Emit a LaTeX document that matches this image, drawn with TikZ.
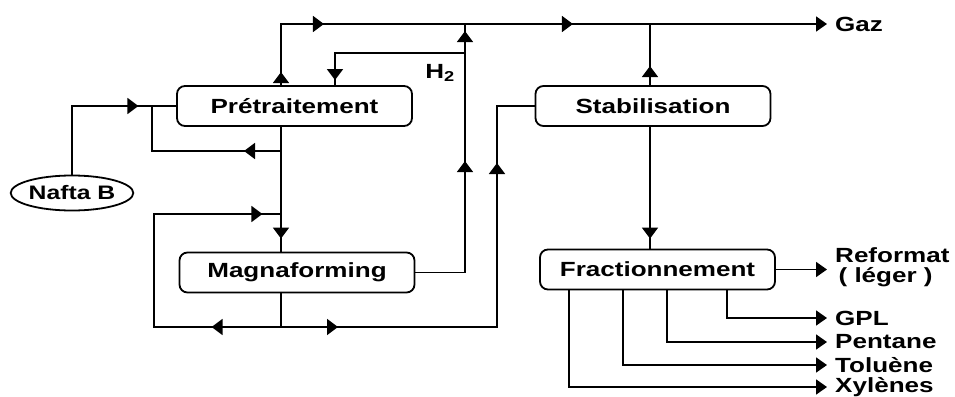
\documentclass[tikz,border=0pt]{standalone}
\usepackage{fontspec}
\setmainfont{Liberation Sans}[FakeStretch=1.27]
\usetikzlibrary{positioning,arrows.meta,shapes.geometric,decorations.markings,calc}
\tikzset{
  txt/.style={font=\bfseries\fontsize{20.5}{22}\selectfont},
  box/.style={draw, txt, line width=1.8pt, rounded corners=8pt, minimum width=235pt,
              minimum height=40pt, inner sep=0pt},
  feed/.style={draw, txt, ellipse, line width=1.8pt, minimum width=121pt,
               minimum height=35pt, inner sep=0pt},
  prod/.style={txt, anchor=west, inner xsep=8pt, inner ysep=0pt, align=left},
  flow/.style={line width=1.8pt, draw=black},
  toend/.style={-{Triangle[length=11pt,width=15pt]}},
  mid/.style={postaction={decorate, decoration={markings,
              mark=at position #1 with {\arrow{Triangle[length=11pt,width=16pt]}}}}},
}
\begin{document}
\begin{tikzpicture}[x=1pt, y=-1pt]
\useasboundingbox (0,0) rectangle (955,396);

% ---- units ----------------------------------------------------------------
\node[box] (pre) at (294.5,106) {Prétraitement};
\node[box] (mag) at (297,272.5) {Magnaforming};
\node[box] (stab) at (653,106) {Stabilisation};
\node[box] (frac) at (657.5,269.5) {Fractionnement};
\node[feed, font=\bfseries\fontsize{19.5}{22}\selectfont] (nafta) at (72,193) {Nafta B};

% ---- products ---------------------------------------------------------------
\node[prod] (gaz) at (827,24) {Gaz};
\node[txt, inner sep=0pt] (h2) at (440,73) {H\textsubscript{2}};
\node[prod] (ref) at (827,267) {Reformat\\[-2pt]\,( léger )};

% ---- columns of the pipes ---------------------------------------------------
\coordinate (xa) at (281,0);
\coordinate (xh) at (335,0);
\coordinate (xc) at (650,0);
\coordinate (xs) at (497,0);
\coordinate (h2top) at (465,24);
\coordinate (h2j) at (465,53);
\coordinate (bpr) at (281,151);
\coordinate (bpl) at (152,151);
\coordinate (bpt) at (152,106);
\coordinate (jb) at (281,327);
\coordinate (lb) at (154,327);
\coordinate (lt) at (154,214);
\coordinate (jt) at (281,214);

% ---- arrows -----------------------------------------------------------------
\draw[flow, toend, mid=13pt, mid=104pt, mid=353pt] (pre.north -| xa) |- (gaz.west);
\draw[flow, mid=161pt, mid=291pt] (mag.east) -| (h2top);
\draw[flow, mid={-5pt}] (h2j) -| (pre.north -| xh);
\draw[flow, mid=135pt] (nafta.north) |- (pre.west);
\draw[flow, mid=37pt] (bpr) -- (bpl) -- (bpt);
\draw[flow, mid={-13pt}] (pre.south -| xa) -- (mag.north -| xa);
% recycle loop round the reactor, and the feed of the stabiliser
\draw[flow, mid=103pt, mid=382pt] (mag.south -| xa) -- (jb) -- (lb) -- (lt) -- (jt);
\draw[flow, mid=57pt, mid=380pt] (jb) -| (stab.west -| xs) -- (stab.west);
\draw[flow, mid=19pt] (stab.north -| xc) -- (xc |- gaz.west);
\draw[flow, mid={-10pt}] (stab.south -| xc) -- (frac.north -| xc);
\draw[flow, toend] (frac.east) -- (ref.west |- frac.east);
% cuts of the fractionation
\foreach \n/\t/\x/\y in {gpl/GPL/727/318, pen/Pentane/667/342,
                          tol/Toluène/623/365, xyl/Xylènes/569/387} {
  \node[prod] (\n) at (827,\y) {\t};
  \coordinate (c\n) at (\x,0);
  \draw[flow, toend] (frac.south -| c\n) |- (\n.west);
}
\end{tikzpicture}
\end{document}
